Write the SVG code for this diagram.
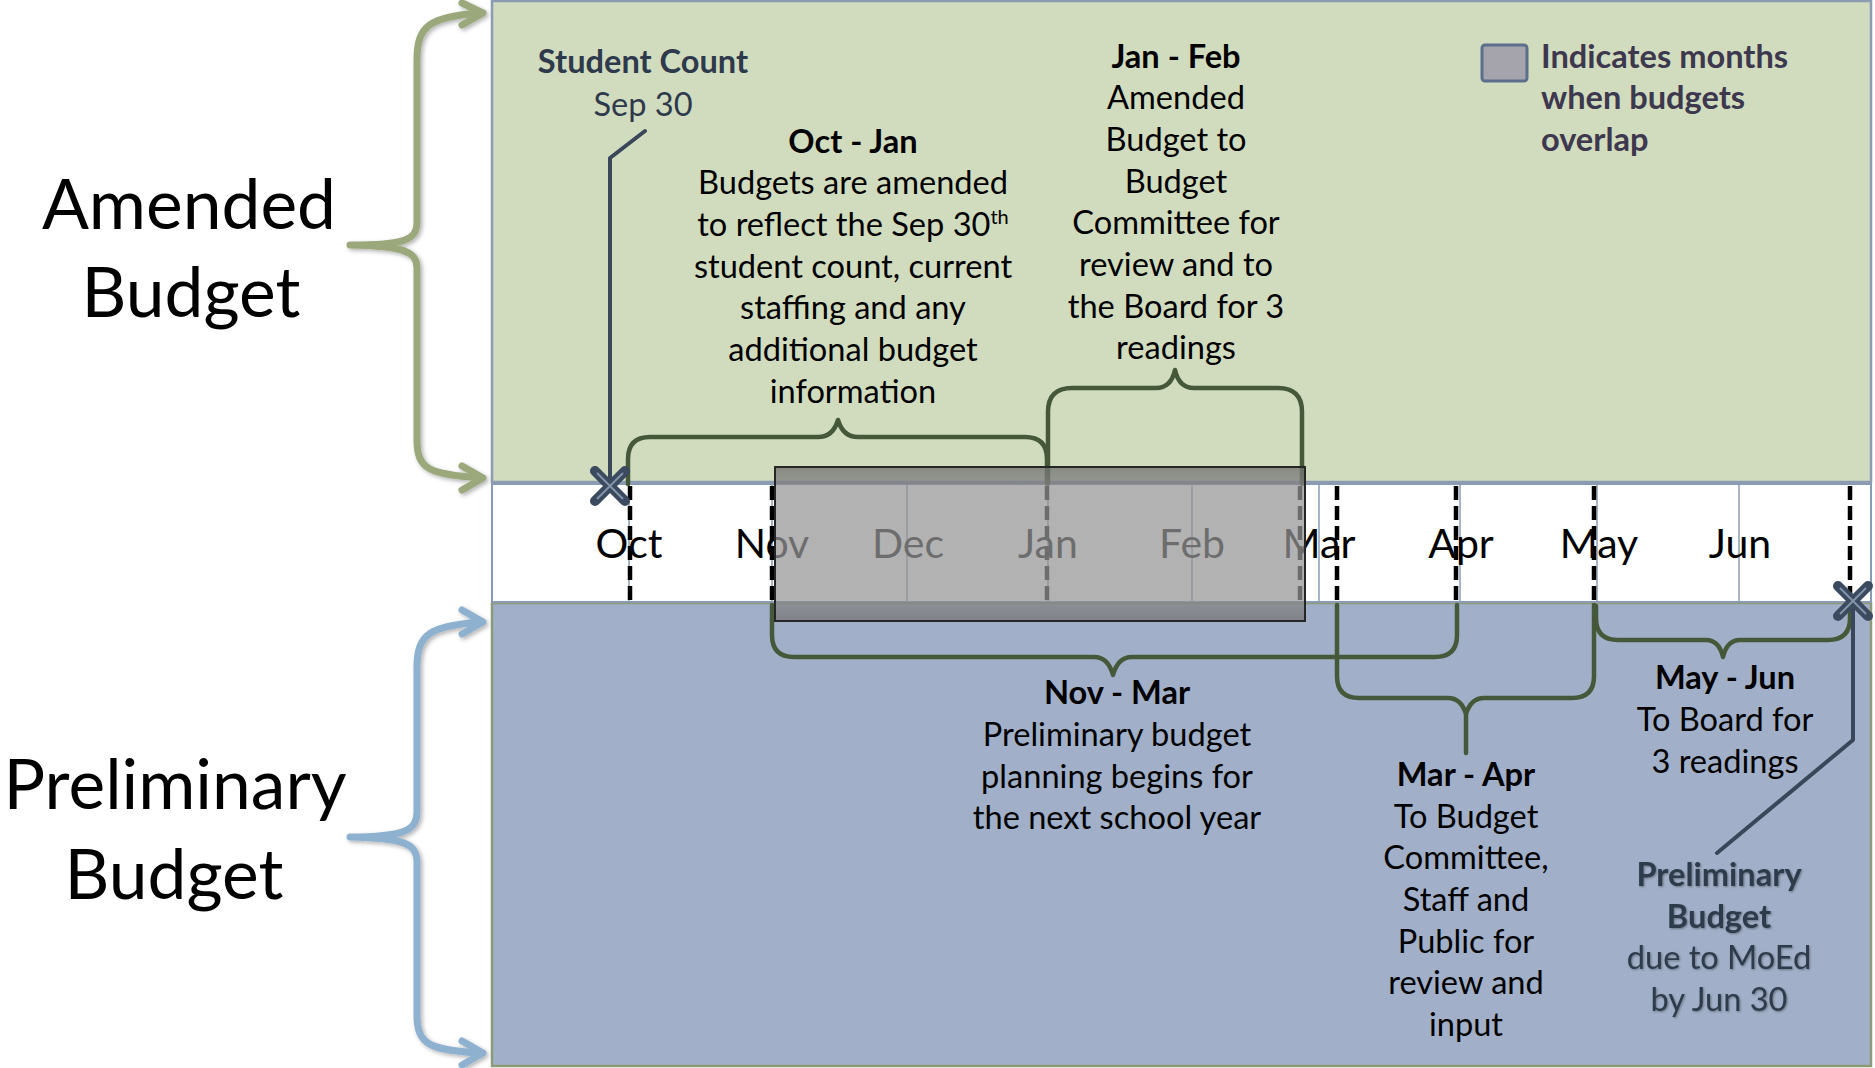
<svg xmlns="http://www.w3.org/2000/svg" width="1875" height="1068" viewBox="0 0 1875 1068">
  <style>
    .big { font-family: Lato, "Open Sans", sans-serif; font-size: 69.5px; fill: #000; text-anchor: middle; }
    .body { font-family: Lato, "Open Sans", sans-serif; font-size: 32.6px; fill: #000; text-anchor: middle; }
    .b { font-weight: bold; }
    .slate { fill: #2e3a4c; }
    .legend { font-family: Lato, "Open Sans", sans-serif; font-size: 32.6px; font-weight: bold; fill: #3d384e; }
    .month { font-family: Lato, "Open Sans", sans-serif; font-size: 41px; fill: #000; text-anchor: middle; }
    .grid { stroke: #8a9cb3; stroke-width: 1.5; }
    .dash { stroke: #000; stroke-width: 4.5; stroke-dasharray: 14 6; }
    .brace { fill: none; stroke: #46583a; stroke-width: 4.5; stroke-linecap: round; stroke-linejoin: round; }
    .callout { fill: none; stroke: #3a475a; stroke-width: 4; stroke-linecap: round; stroke-linejoin: round; }
    .side { fill: none; stroke-width: 7; stroke-linecap: round; stroke-linejoin: round; }
  </style>
  <defs>
    <filter id="soft" x="-20%" y="-5%" width="140%" height="110%">
      <feDropShadow dx="2" dy="2" stdDeviation="2" flood-color="#000" flood-opacity="0.3"/>
    </filter>
    <filter id="glow" x="-10%" y="-20%" width="120%" height="140%">
      <feDropShadow dx="1" dy="1" stdDeviation="1" flood-color="#000" flood-opacity="0.35"/>
    </filter>
    <linearGradient id="shade" x1="0" y1="0" x2="0" y2="1">
      <stop offset="0" stop-color="#000" stop-opacity="0.2"/>
      <stop offset="0.11" stop-color="#000" stop-opacity="0.12"/>
      <stop offset="0.12" stop-color="#000" stop-opacity="0.02"/>
      <stop offset="0.87" stop-color="#000" stop-opacity="0.02"/>
      <stop offset="0.88" stop-color="#000" stop-opacity="0.1"/>
      <stop offset="1" stop-color="#000" stop-opacity="0.18"/>
    </linearGradient>
    <g id="xmark">
      <path d="M-15,-15 L15,15 M-15,15 L15,-15" stroke="#3b4a5f" stroke-width="10" stroke-linecap="round"/>
      <path d="M-13,-13 L13,13 M-13,13 L13,-13" stroke="#8494a8" stroke-width="2"/>
    </g>
  </defs>

  <rect width="1875" height="1068" fill="#fff"/>

  <!-- panels -->
  <g id="amended-panel">
    <rect x="492" y="1" width="1379" height="481" fill="#d1dcbf" stroke="#8b9cb2" stroke-width="2.5"/>
  </g>
  <g id="preliminary-panel">
    <rect x="492" y="603" width="1379" height="463" fill="#a1b0c8" stroke="#8d9a7a" stroke-width="2.5"/>
  </g>

  <!-- month band -->
  <g id="timeline">
    <rect x="492" y="484" width="1379" height="118" fill="#fff" stroke="#8a9cb3" stroke-width="2"/>
    <g class="grid">
      <line x1="629" y1="485" x2="629" y2="601"/>
      <line x1="772" y1="485" x2="772" y2="601"/>
      <line x1="907" y1="485" x2="907" y2="601"/>
      <line x1="1048" y1="485" x2="1048" y2="601"/>
      <line x1="1192" y1="485" x2="1192" y2="601"/>
      <line x1="1319" y1="485" x2="1319" y2="601"/>
      <line x1="1460" y1="485" x2="1460" y2="601"/>
      <line x1="1597" y1="485" x2="1597" y2="601"/>
      <line x1="1739" y1="485" x2="1739" y2="601"/>
    </g>
    <text class="month" x="629" y="558">Oct</text>
    <text class="month" x="772" y="558">Nov</text>
    <text class="month" x="908" y="558">Dec</text>
    <text class="month" x="1048" y="558">Jan</text>
    <text class="month" x="1192" y="558">Feb</text>
    <text class="month" x="1319" y="558">Mar</text>
    <text class="month" x="1461" y="558">Apr</text>
    <text class="month" x="1599" y="558">May</text>
    <text class="month" x="1740" y="558">Jun</text>
    <g class="dash">
      <line x1="630" y1="486" x2="630" y2="601"/>
      <line x1="772" y1="486" x2="772" y2="601"/>
      <line x1="1047" y1="486" x2="1047" y2="601"/>
      <line x1="1300" y1="486" x2="1300" y2="601"/>
      <line x1="1337" y1="486" x2="1337" y2="601"/>
      <line x1="1456" y1="486" x2="1456" y2="601"/>
      <line x1="1594" y1="486" x2="1594" y2="601"/>
      <line x1="1850" y1="486" x2="1850" y2="601"/>
    </g>
  </g>

  <!-- side labels -->
  <g id="amended-label">
    <text class="big" x="189" y="229">Amended</text>
    <text class="big" x="191" y="317">Budget</text>
    <g filter="url(#soft)" stroke="#9ba87c" class="side">
      <path d="M480,13 C430,17 417,25 417,60 V222 C417,240 405,245 350,245 C405,246 417,252 417,268 V440 C417,470 430,474 480,478"/>
      <path d="M462,3 L483,13 L462,25"/>
      <path d="M462,466 L483,478 L462,490"/>
    </g>
  </g>
  <g id="preliminary-label">
    <text class="big" x="175" y="809">Preliminary</text>
    <text class="big" x="174" y="899">Budget</text>
    <g filter="url(#soft)" stroke="#8fb1d0" class="side">
      <path d="M480,622 C430,626 417,634 417,667 V812 C417,830 405,837 350,837 C405,838 417,844 417,862 V1015 C417,1045 430,1050 480,1053"/>
      <path d="M462,610 L483,622 L462,634"/>
      <path d="M462,1041 L483,1053 L462,1065"/>
    </g>
  </g>

  <!-- period braces -->
  <g id="connectors">
    <path class="brace" d="M628,484 V459 Q628,437 650,437 H818 Q833,437 838,420 Q843,437 858,437 H1025 Q1047,437 1047,459 V484"/>
    <path class="brace" d="M1048,484 V412 Q1048,388 1072,388 H1156 Q1171,388 1175,370 Q1179,388 1194,388 H1278 Q1302,388 1302,412 V484"/>
    <path class="brace" d="M772,605 V635 Q772,657 794,657 H1094 Q1108,657 1113,675 Q1118,657 1132,657 H1435 Q1457,657 1457,635 V605"/>
    <path class="brace" d="M1337,605 V676 Q1337,698 1359,698 H1448 Q1461,698 1466,714 Q1471,698 1484,698 H1572 Q1594,698 1594,676 V605 M1466,714 V753"/>
    <path class="brace" d="M1596,606 V618 Q1596,640 1618,640 H1706 Q1719,640 1723,657 Q1727,640 1740,640 H1828 Q1850,640 1850,618 V606"/>
  </g>

  <!-- overlap months -->
  <g id="overlap">
    <rect x="775" y="467" width="530" height="154" fill="#9a9a9a" fill-opacity="0.72"/>
    <rect x="775" y="467" width="530" height="154" fill="url(#shade)" stroke="#262626" stroke-width="2"/>
  </g>

  <!-- milestone callouts -->
  <g id="student-count">
    <text class="body b slate" x="643" y="73">Student Count</text>
    <text class="body slate" x="643" y="116">Sep 30</text>
    <path class="callout" d="M645,131 L610,158 V486"/>
    <use href="#xmark" x="610" y="486"/>
  </g>
  <g id="due-date">
    <g filter="url(#glow)">
      <text class="body b slate" x="1719" y="886">Preliminary</text>
      <text class="body b slate" x="1719" y="928">Budget</text>
      <text class="body slate" x="1719" y="969">due to MoEd</text>
      <text class="body slate" x="1719" y="1011">by Jun 30</text>
    </g>
    <path class="callout" d="M1717,853 L1853,740 V601"/>
    <use href="#xmark" x="1853" y="601"/>
  </g>

  <g id="oct-jan">
    <text class="body b" x="853" y="153">Oct - Jan</text>
    <text class="body" x="853" y="194">Budgets are amended</text>
    <text class="body" x="853" y="236">to reflect the Sep 30<tspan font-size="20" dy="-12">th</tspan></text>
    <text class="body" x="853" y="278">student count, current</text>
    <text class="body" x="853" y="319">staffing and any</text>
    <text class="body" x="853" y="361">additional budget</text>
    <text class="body" x="853" y="403">information</text>
  </g>
  <g id="jan-feb">
    <text class="body b" x="1176" y="68">Jan - Feb</text>
    <text class="body" x="1176" y="109">Amended</text>
    <text class="body" x="1176" y="151">Budget to</text>
    <text class="body" x="1176" y="193">Budget</text>
    <text class="body" x="1176" y="234">Committee for</text>
    <text class="body" x="1176" y="276">review and to</text>
    <text class="body" x="1176" y="318">the Board for 3</text>
    <text class="body" x="1176" y="359">readings</text>
  </g>
  <g id="legend">
    <rect x="1482" y="45" width="45" height="36" rx="3" fill="#a5a4ac" stroke="#5b6f8c" stroke-width="3"/>
    <text class="legend" x="1541" y="68">Indicates months</text>
    <text class="legend" x="1541" y="109">when budgets</text>
    <text class="legend" x="1541" y="151">overlap</text>
  </g>
  <g id="nov-mar">
    <text class="body b" x="1117" y="704">Nov - Mar</text>
    <text class="body" x="1117" y="746">Preliminary budget</text>
    <text class="body" x="1117" y="788">planning begins for</text>
    <text class="body" x="1117" y="829">the next school year</text>
  </g>
  <g id="mar-apr">
    <text class="body b" x="1466" y="786">Mar - Apr</text>
    <text class="body" x="1466" y="828">To Budget</text>
    <text class="body" x="1466" y="869">Committee,</text>
    <text class="body" x="1466" y="911">Staff and</text>
    <text class="body" x="1466" y="953">Public for</text>
    <text class="body" x="1466" y="994">review and</text>
    <text class="body" x="1466" y="1036">input</text>
  </g>
  <g id="may-jun">
    <text class="body b" x="1725" y="689">May - Jun</text>
    <text class="body" x="1725" y="731">To Board for</text>
    <text class="body" x="1725" y="773">3 readings</text>
  </g>
</svg>
